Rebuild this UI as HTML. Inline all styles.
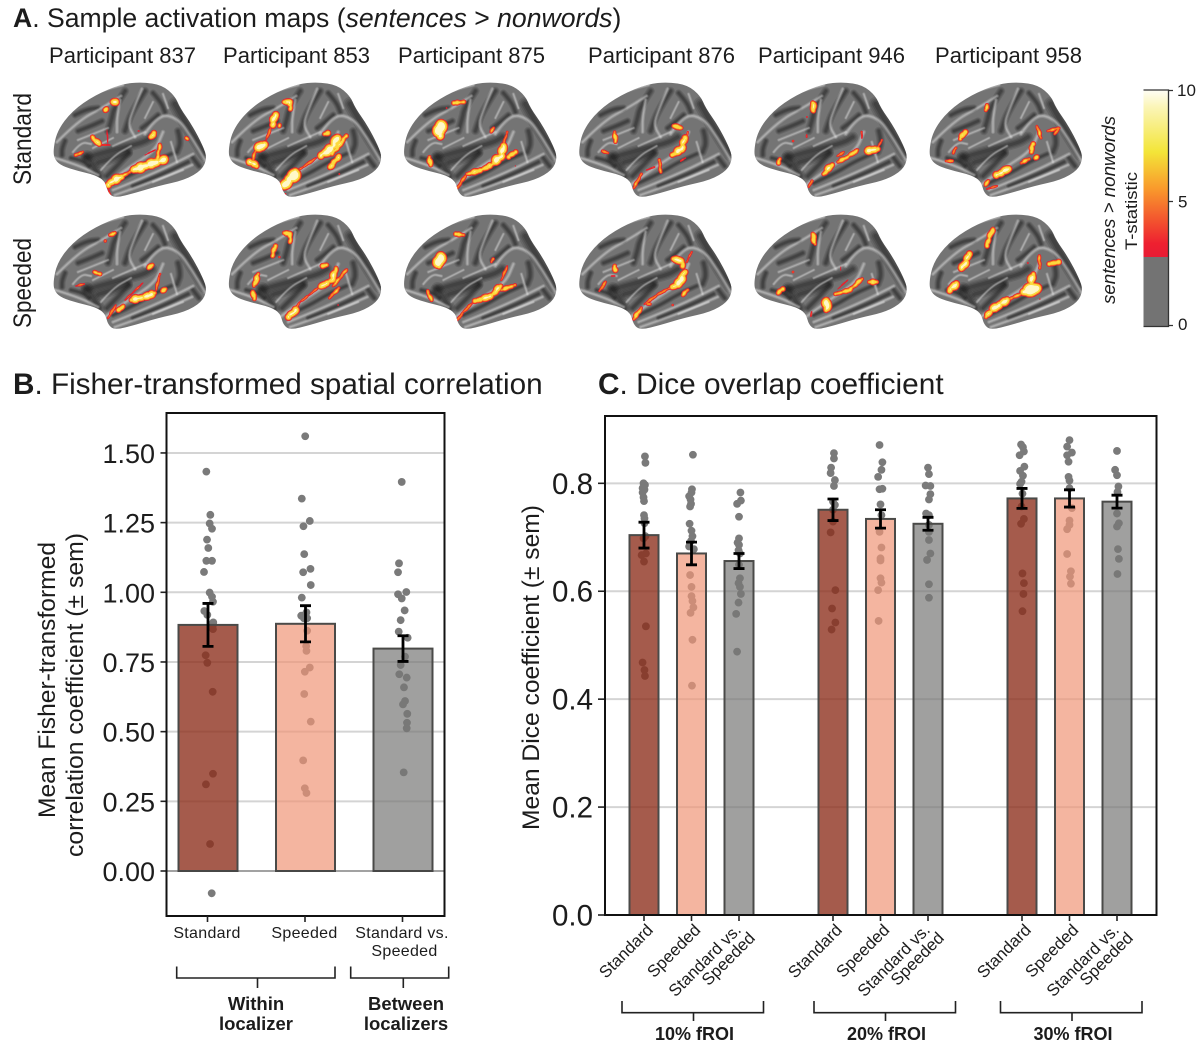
<!DOCTYPE html>
<html lang="en">
<head>
<meta charset="utf-8">
<title>Activation maps and localizer reliability</title>
<style>
html,body{margin:0;padding:0;background:#fff}
svg{display:block}
text{font-family:"Liberation Sans",sans-serif;fill:#1c1c1c}
</style>
</head>
<body>
<svg id="figure" xmlns="http://www.w3.org/2000/svg" width="1200" height="1055" viewBox="0 0 1200 1055">
<defs>
<linearGradient id="heat-gradient" x1="0" y1="0" x2="0" y2="1">
<stop offset="0" stop-color="#fffef6"/>
<stop offset="0.1" stop-color="#fbf5b8"/>
<stop offset="0.37" stop-color="#f3e538"/>
<stop offset="0.59" stop-color="#f99a2c"/>
<stop offset="0.92" stop-color="#ee2030"/>
<stop offset="1" stop-color="#e81c34"/>
</linearGradient>
<clipPath id="brain-clip"><path id="brain-clip-path" d=""/></clipPath>
<g id="brain-base">
<path id="brain-outline" d="" fill="#747474"/>
<g id="brain-folds" clip-path="url(#brain-clip)"></g>
</g>
</defs>
<g id="panel-a">
<text x="13" y="27" font-size="26.6"><tspan font-weight="bold">A</tspan>. Sample activation maps (<tspan font-style="italic">sentences</tspan> &gt; <tspan font-style="italic">nonwords</tspan>)</text>
<text x="49" y="63" font-size="22" textLength="147" lengthAdjust="spacingAndGlyphs">Participant 837</text>
<text x="223" y="63" font-size="22" textLength="147" lengthAdjust="spacingAndGlyphs">Participant 853</text>
<text x="398" y="63" font-size="22" textLength="147" lengthAdjust="spacingAndGlyphs">Participant 875</text>
<text x="588" y="63" font-size="22" textLength="147" lengthAdjust="spacingAndGlyphs">Participant 876</text>
<text x="758" y="63" font-size="22" textLength="147" lengthAdjust="spacingAndGlyphs">Participant 946</text>
<text x="935" y="63" font-size="22" textLength="147" lengthAdjust="spacingAndGlyphs">Participant 958</text>
<text transform="translate(31 185) rotate(-90)" font-size="25" textLength="92" lengthAdjust="spacingAndGlyphs">Standard</text>
<text transform="translate(31 328) rotate(-90)" font-size="25" textLength="90" lengthAdjust="spacingAndGlyphs">Speeded</text>
<g id="brains"></g>
<g>
<rect x="1143.5" y="90" width="25" height="167" fill="url(#heat-gradient)"/>
<rect x="1143.5" y="257" width="25" height="69.5" fill="#737373"/>
<path d="M1143.5 90H1168.5V326.5H1143.5M1168.5 90.5H1173M1168.5 201.5H1173M1168.5 325.5H1173" fill="none" stroke="#333" stroke-width="1.3"/>
<text x="1177" y="96" font-size="17">10</text>
<text x="1178" y="207.5" font-size="17">5</text>
<text x="1178" y="330" font-size="17">0</text>
<text transform="translate(1115 304) rotate(-90)" font-size="18" font-style="italic" textLength="188" lengthAdjust="spacingAndGlyphs">sentences &gt; nonwords</text>
<text transform="translate(1137 250) rotate(-90)" font-size="17" textLength="78" lengthAdjust="spacingAndGlyphs">T-statistic</text>
</g>
</g>
<g id="panel-b">
<text x="13" y="394" font-size="29.7"><tspan font-weight="bold">B</tspan>. Fisher-transformed spatial correlation</text>
<text transform="translate(55 818) rotate(-90)" font-size="24" textLength="276" lengthAdjust="spacingAndGlyphs">Mean Fisher-transformed</text>
<text transform="translate(83 857) rotate(-90)" font-size="24" textLength="324" lengthAdjust="spacingAndGlyphs">correlation coefficient (± sem)</text>
<g id="chart-b"></g>
<path d="M176.7 966.5V978H335V966.5M257.5 978V988" fill="none" stroke="#222" stroke-width="1.6"/>
<path d="M350.7 966.5V978H448.7V966.5M403.3 978V988" fill="none" stroke="#222" stroke-width="1.6"/>
<text x="256" y="1010" font-size="18.5" font-weight="bold" text-anchor="middle">Within</text>
<text x="256" y="1030" font-size="18.5" font-weight="bold" text-anchor="middle">localizer</text>
<text x="406" y="1010" font-size="18.5" font-weight="bold" text-anchor="middle">Between</text>
<text x="406" y="1030" font-size="18.5" font-weight="bold" text-anchor="middle">localizers</text>
</g>
<g id="panel-c">
<text x="598" y="394" font-size="29.8"><tspan font-weight="bold">C</tspan>. Dice overlap coefficient</text>
<text transform="translate(539 830) rotate(-90)" font-size="24" textLength="325" lengthAdjust="spacingAndGlyphs">Mean Dice coefficient (± sem)</text>
<g id="chart-c"></g>
</g>
</svg>
<script>
/* ---------- Panel B data ---------- */
const bCategories = ['Standard', 'Speeded', 'Standard vs.|Speeded'];
const bTicks = [0, 0.25, 0.5, 0.75, 1, 1.25, 1.5];
const bTickLabels = ['0.00', '0.25', '0.50', '0.75', '1.00', '1.25', '1.50'];
const bMeans = [0.883, 0.887, 0.798];
const bSem = [0.077, 0.065, 0.046];
const bStandardValues = [1.433,1.278,1.247,1.228,1.189,1.159,1.113,1.113,1.073,0.999,0.984,0.966,0.933,0.919,0.892,0.883,0.868,0.774,0.747,0.643,0.349,0.311,0.097,-0.080];
const bStandardJitter = [-.017,.024,.017,.041,-.01,.003,-.017,.041,-.041,.017,.041,.051,-.038,-.007,.054,.051,.051,-.024,-.007,.048,.051,-.021,.021,.038];
const bSpeededValues = [1.560,1.336,1.256,1.237,1.137,1.084,1.072,1.026,0.981,0.916,0.928,0.907,0.907,0.862,0.807,0.790,0.730,0.715,0.635,0.536,0.397,0.297,0.280];
const bSpeededJitter = [-.003,-.038,.044,-.021,-.013,.051,-.024,.054,-.038,-.044,.01,-.017,.017,.017,.007,.01,.044,-.007,-.013,.054,-.024,-.007,.01];
const bBetweenValues = [1.396,1.104,1.072,0.993,1.001,0.978,0.935,0.900,0.859,0.837,0.769,0.739,0.706,0.694,0.659,0.610,0.598,0.564,0.532,0.512,0.354];
const bBetweenJitter = [-.013,-.041,-.051,-.051,.034,-.013,.017,-.024,-.044,.048,.021,-.024,-.038,.038,.01,.021,0,.044,.041,.038,.007];

/* ---------- Panel C data ---------- */
const cGroups = ['10% fROI', '20% fROI', '30% fROI'];
const cConditions = ['Standard', 'Speeded', 'Standard vs.|Speeded'];
const cTicks = [0, 0.2, 0.4, 0.6, 0.8];
const cTickLabels = ['0.0', '0.2', '0.4', '0.6', '0.8'];
const cStandardMeans = [0.704, 0.751, 0.772];
const cSpeededMeans = [0.670, 0.734, 0.772];
const cBetweenMeans = [0.656, 0.725, 0.766];
const cStandardSem = [0.024, 0.020, 0.0185];
const cSpeededSem = [0.021, 0.017, 0.016];
const cBetweenSem = [0.014, 0.012, 0.012];
const c10StandardValues = [0.850,0.838,0.800,0.797,0.791,0.788,0.783,0.774,0.767,0.741,0.735,0.726,0.702,0.698,0.670,0.667,0.655,0.535,0.468,0.454,0.443];
const c10StandardJitter = [.02,.03,-.01,.02,-.03,.01,-.03,-.01,0,0,.01,.01,.03,-.01,.04,-.05,0,.04,-.03,.01,.02];
const c10SpeededValues = [0.853,0.789,0.783,0.776,0.770,0.762,0.757,0.725,0.712,0.702,0.693,0.683,0.678,0.630,0.608,0.591,0.582,0.570,0.560,0.510,0.425];
const c10SpeededJitter = [.03,.01,0,-.05,-.02,-.01,-.03,-.04,0,.02,-.01,-.05,.05,-.03,0,0,.02,.04,-.02,.02,.01];
const c10BetweenValues = [0.783,0.768,0.762,0.738,0.698,0.690,0.686,0.676,0.670,0.649,0.624,0.615,0.608,0.595,0.579,0.558,0.488];
const c10BetweenJitter = [.03,.04,-.04,0,0,-.03,0,-.01,.02,0,.02,-.01,.02,.04,-.01,-.06,-.04];
const c20StandardValues = [0.856,0.846,0.829,0.819,0.806,0.795,0.766,0.760,0.751,0.729,0.709,0.602,0.568,0.542,0.529];
const c20StandardJitter = [.02,.02,-.04,-.05,.04,.02,0,.04,0,0,-.05,.05,-.02,.05,-.03];
const c20SpeededValues = [0.871,0.839,0.825,0.812,0.789,0.790,0.761,0.741,0.710,0.681,0.661,0.657,0.624,0.616,0.602,0.545];
const c20SpeededJitter = [-.02,.04,.02,-.05,-.02,.04,0,.02,-.02,.02,0,0,0,.02,-.05,-.04];
const c20BetweenValues = [0.829,0.817,0.796,0.795,0.780,0.770,0.744,0.741,0.723,0.710,0.695,0.670,0.658,0.613,0.588];
const c20BetweenJitter = [0,.02,-.05,.05,.05,.02,-.04,.02,.02,.02,.02,.05,-.02,.02,.02];
const c30StandardValues = [0.872,0.867,0.859,0.852,0.831,0.823,0.814,0.803,0.799,0.781,0.757,0.734,0.725,0.633,0.615,0.595,0.563];
const c30StandardJitter = [-.02,.02,.04,-.05,.05,-.04,.02,-.01,-.04,.01,-.01,.04,-.02,.01,.04,.03,.01];
const c30SpeededValues = [0.880,0.868,0.857,0.852,0.840,0.812,0.805,0.791,0.754,0.731,0.723,0.715,0.669,0.637,0.627,0.614];
const c30SpeededJitter = [0,-.05,.05,-.05,-.02,-.02,0,0,.05,0,0,-.05,-.05,.03,.01,.03];
const c30BetweenValues = [0.860,0.825,0.815,0.794,0.784,0.744,0.726,0.720,0.678,0.660,0.632];
const c30BetweenJitter = [0,-.04,0,.03,.01,0,.04,0,.02,.04,.01];

/* ---------- Brain sketch: outline, folds, and activation traces (outer width, then polyline) ---------- */
const brainOutline = [[0,69],[4,49],[19,29],[42,13],[69,2],[89,0],[109,3],[122,14],[127,26],[139,43],[150,64],[154,76],[149,88],[132,98],[105,104],[82,111],[62,116],[55,111],[52,99],[42,93],[25,89],[9,84],[2,78]];
const brainDarkFolds = [
 [4.5,32,76,59,68,89,61,99,55],[5,34,74,40,84,46,94],[5,46,80,60,76,74,70],[3.5,76,71,64,84,54,94],
 [3.5,72,9,61,26,59,36,55,49],[3.5,92,9,79,29,72,49],[3,22,33,34,27,45,26],[3,25,49,38,44,49,39],
 [6,122,22,130,36,139,52,152,72],[3,105,33,97,40,89,46],[3.5,125,49,128,60,124,70],[3,12,59,9,66,9,73],
 [2.5,60,101,80,92,100,80,118,72],[2.5,80,104,110,92,135,80],[2.5,10,30,28,12,50,5],[3,100,11,108,20,112,30],
 [2.5,18,76,28,78,36,84],[3,140,76,146,84]
];
const brainLightFolds = [
 [1.6,4,60,25,39,49,26,68,14],[1.6,67,18,64,34,64,50],[1.6,89,7,80,28,75,43,82,55],[1.8,92,52,105,32,125,36,139,56,152,78],
 [1.8,52,103,75,86,102,69,110,50],[1.6,62,113,102,99,139,83],[1.6,2,76,25,83,45,93],[1.3,25,58,55,46],[1.3,60,64,92,50],
 [1.3,110,12,115,26],[1.3,118,60,124,80],[1.6,60,108,100,92,140,72],[1.3,20,70,28,60,38,62],[1.3,30,16,50,8,70,3],
 [1.2,40,66,60,56],[1.2,100,100,130,88],[1.2,100,20,92,36],[1.2,48,88,60,74,78,64]
];
const brainColumns = ['837', '853', '875', '876', '946', '958'];
const standardTraces = [
 [[9,60,20,62,20],[7,52,28,53,27],[7,39,55,46,62],[1.5,54,48,55,63],[2,49,63,57,63],[4.5,23,73,30,70],[9,98,55,101,51],[6,133,56,134,57],[1.5,85,49,86,49],[9,55,103,60,99,68,95],[10,80,88,92,84,104,80],[9,106,80,113,76],[5,107,63,104,78],[1.5,92,73,102,68],[2,55,106,58,115],[4,68,95,80,88]],
 [[7,56,20,62,20,62,27],[9,47,33,44,43],[6,51,43,51,44],[3,43,45,38,58],[10,30,66,37,62],[9,22,80,29,84],[3.5,28,66,24,80],[7,96,52,100,51],[10,109,56,103,67,92,74],[6,118,54,104,72],[3,88,76,72,87],[12,68,90,62,97,57,103],[7,111,74,102,85],[2.5,111,92,111,92],[3,57,112,57,112]],
 [[13,37,42,36,54],[6,50,21,60,20],[2.5,43,26,43,26],[6,26,75,27,83],[4,88,50,90,46],[3.5,54,106,62,94],[6,64,92,78,88,90,82],[9,90,81,98,74,100,64],[3,100,62,104,50],[7,105,75,112,70],[2,112,84,112,84]],
 [[6,95,44,103,46],[8,106,56,103,67,94,73],[3,109,50,108,60],[5,36,50,37,60],[3.5,24,69,29,71],[4,81,78,82,90],[2,68,88,76,85],[3.5,55,106,63,92],[2,102,79,107,76]],
 [[7,59,21,60,29],[2,53,35,53,35],[3.5,39,59,39,59],[6,26,77,25,81],[2,53,53,53,55],[2.5,108,50,108,56],[7,70,92,78,83],[5,84,80,92,76,104,68],[9,113,69,124,67],[3,124,66,128,58],[3.5,55,105,58,99],[3,84,74,90,70]],
 [[5,58,23,57,28],[7,36,50,31,57],[4,24,71,27,66],[4,17,79,23,79],[5,57,103,59,99],[9,68,93,79,87],[2.5,58,107,68,104],[4.5,92,81,100,77],[6,106,76,108,75],[7,104,62,102,70],[4,108,44,112,56],[3.5,119,49,130,46,126,52]]
];
const speededTraces = [
 [[5,57,21,62,19],[3.5,52,27,52,27],[6,41,58,47,60],[2.5,23,72,31,70],[6,96,54,99,51],[7,66,96,70,92],[3,55,104,63,91],[8,78,86,92,83,102,79],[6,109,77,113,75],[3,107,60,103,76],[2,90,69,72,86]],
 [[6,56,19,62,20,62,28],[6,47,32,44,42],[3.5,51,43,51,43],[6,30,60,26,72],[6,25,78,26,85],[7,95,52,98,51],[7,108,54,104,66,92,73],[2.5,91,73,72,88],[4,118,56,105,72],[9,60,103,68,96],[3,72,88,66,96],[4,111,74,101,84],[2,110,91,110,91],[2,57,114,57,114]],
 [[12,37,42,35,52],[6,52,20,60,21],[5,24,77,28,86],[4,88,48,90,45],[3,54,106,60,98,70,88],[7,72,87,88,82,97,72],[3,98,66,104,52],[5,98,76,112,71]],
 [[8,95,45,103,47,104,52],[2.5,113,38,108,48],[9,106,58,100,70,94,73],[7,36,52,37,56],[3.5,27,68,21,77],[3,95,72,80,80,66,90],[5,69,90,71,90],[5,55,105,63,94],[5,104,81,109,76],[3,94,91,94,91],[2,56,112,56,112],[2,33,62,36,62]],
 [[6,59,20,61,30],[3,39,58,39,58],[7,24,79,29,75],[1.5,87,53,87,56],[10,73,87,73,96],[5,82,80,96,76,108,65],[1.5,84,75,94,66],[6,115,68,123,68],[2,57,102,58,98]],
 [[6,64,15,60,24,58,32],[8,40,40,36,50,32,55],[9,20,77,27,70],[7,57,103,61,98],[9,64,95,78,86],[4,78,86,92,80],[13,95,78,108,74],[8,104,60,102,70],[4,110,42,111,54],[7,120,50,130,48],[3,99,49,99,49],[2,111,85,111,85]]
];

const NS = 'http://www.w3.org/2000/svg';
function make(tag, attrs, parent) {
  const el = document.createElementNS(NS, tag);
  for (const key in attrs) el.setAttribute(key, attrs[key]);
  parent.appendChild(el);
  return el;
}

/* ---------- Brains ---------- */
function smoothClosed(pts) {
  const mid = (a, b) => [(a[0] + b[0]) / 2, (a[1] + b[1]) / 2];
  let start = mid(pts[pts.length - 1], pts[0]);
  let d = 'M' + start[0] + ' ' + start[1];
  pts.forEach((p, i) => {
    const m = mid(p, pts[(i + 1) % pts.length]);
    d += 'Q' + p[0] + ' ' + p[1] + ' ' + m[0] + ' ' + m[1];
  });
  return d + 'Z';
}
function smoothOpen(t) {
  const pts = [];
  for (let i = 1; i < t.length; i += 2) pts.push([t[i], t[i + 1]]);
  let d = 'M' + pts[0][0] + ' ' + pts[0][1];
  for (let i = 1; i < pts.length - 1; i++) {
    const mx = (pts[i][0] + pts[i + 1][0]) / 2, my = (pts[i][1] + pts[i + 1][1]) / 2;
    d += 'Q' + pts[i][0] + ' ' + pts[i][1] + ' ' + mx + ' ' + my;
  }
  const last = pts[pts.length - 1];
  return d + 'L' + last[0] + ' ' + last[1];
}
const outlinePath = smoothClosed(brainOutline);
document.getElementById('brain-clip-path').setAttribute('d', outlinePath);
document.getElementById('brain-outline').setAttribute('d', outlinePath);

(function buildFolds() {
  const host = document.getElementById('brain-folds');
  const soft = [[2.4, .12], [1.8, .14], [1.25, .17], [.7, .2]];
  soft.forEach(([scale, alpha]) => {
    brainDarkFolds.forEach((t) => {
      make('path', { d: smoothOpen(t), fill: 'none', stroke: '#141414', 'stroke-opacity': alpha, 'stroke-width': t[0] * scale, 'stroke-linecap': 'round', 'stroke-linejoin': 'round' }, host);
    });
  });
  const softLight = [[2.6, .13], [1.7, .16], [.9, .22]];
  softLight.forEach(([scale, alpha]) => {
    brainLightFolds.forEach((t) => {
      make('path', { d: smoothOpen(t), fill: 'none', stroke: '#f4f4f4', 'stroke-opacity': alpha, 'stroke-width': t[0] * scale, 'stroke-linecap': 'round', 'stroke-linejoin': 'round' }, host);
    });
  });
})();

const brainLeft = (c) => 53 + 175.2 * c;
const brainTop = (r) => 82 + 132 * r;
const heatLayers = [[0, '#e81c2c'], [1.5, '#f6821f'], [3.2, '#fcd93e'], [6.4, '#fff8c8']];
function blobPath(traces, inset) {
  let d = '';
  traces.forEach((t, idx) => {
    const pts = [];
    for (let i = 1; i < t.length; i += 2) pts.push([t[i], t[i + 1]]);
    let total = 0;
    const segs = [];
    for (let i = 0; i < pts.length - 1; i++) {
      const len = Math.hypot(pts[i + 1][0] - pts[i][0], pts[i + 1][1] - pts[i][1]);
      segs.push(len);
      total += len;
    }
    const steps = Math.max(2, Math.ceil(total / 0.9));
    for (let k = 0; k <= steps; k++) {
      let s = total * k / steps, a = 0;
      while (a < segs.length - 1 && s > segs[a]) { s -= segs[a]; a++; }
      const f = segs.length && segs[a] > 0 ? s / segs[a] : 0;
      const p0 = pts[a], p1 = pts[a + 1] || pts[a];
      const x = p0[0] + (p1[0] - p0[0]) * f;
      const y = p0[1] + (p1[1] - p0[1]) * f;
      const along = total * k / steps;
      const wobble = 1 + .16 * Math.sin(along * .45 + idx * 1.7) + .08 * Math.sin(along * 1.1 + idx * 3.1);
      const endDist = Math.min(along, total - along);
      const taper = .78 + .22 * Math.min(1, endDist / 4);
      const r = (t[0] * wobble * taper - inset) / 2;
      if (r <= 0.05) continue;
      const ox = Math.sin(along * .7 + idx) * t[0] * .08;
      d += 'M' + (x + ox - r).toFixed(2) + ' ' + y.toFixed(2) + 'a' + r.toFixed(2) + ' ' + r.toFixed(2) + ' 0 1 0 ' + (2 * r).toFixed(2) + ' 0a' + r.toFixed(2) + ' ' + r.toFixed(2) + ' 0 1 0 ' + (-2 * r).toFixed(2) + ' 0';
    }
  });
  return d;
}
function drawBrain(col, row, traces, rowName) {
  const host = document.getElementById('brains');
  const g = make('g', { transform: 'translate(' + brainLeft(col) + ' ' + brainTop(row) + ')' }, host);
  
  
  make('use', { href: '#brain-base' }, g);
  const hot = make('g', { 'clip-path': 'url(#brain-clip)' }, g);
  
  
  heatLayers.forEach(([inset, color]) => {
    make('path', { d: blobPath(traces, inset), fill: color }, hot);
  });
}
standardTraces.forEach((t, c) => drawBrain(c, 0, t, 'standard'));
speededTraces.forEach((t, c) => drawBrain(c, 1, t, 'speeded'));

/* ---------- Shared chart styling ---------- */
const barFills = ['rgba(140,45,25,.78)', 'rgba(240,150,120,.7)', 'rgba(120,120,118,.7)'];
const condKeys = ['standard', 'speeded', 'standard-vs-speeded'];
const POINT_GRAY = '#7a7a7a';
function drawPoints(parent, xOf, yOf, values, jitter, label) {
  values.forEach((v, i) => {
    const c = make('circle', { cx: xOf(jitter[i]), cy: yOf(v), r: 3.9, fill: POINT_GRAY }, parent);
    
    
  });
}
function drawBar(parent, cx, w, yTop, yBase, k, label) {
  const r = make('rect', { x: cx - w / 2, y: yTop, width: w, height: yBase - yTop, fill: barFills[k], stroke: '#4a4a48', 'stroke-width': 2 }, parent);
  
  
}
function drawError(parent, cx, yHi, yLo, label) {
  const p = make('path', { d: 'M' + (cx - 5.5) + ' ' + yHi + 'H' + (cx + 5.5) + 'M' + cx + ' ' + yHi + 'V' + yLo + 'M' + (cx - 5.5) + ' ' + yLo + 'H' + (cx + 5.5), fill: 'none', stroke: '#000', 'stroke-width': 2.8 }, parent);
  
  
}

/* ---------- Panel B ---------- */
(function () {
  const root = document.getElementById('chart-b');
  const L = 166.5, R = 444.5, T = 413, B = 916;
  const bY = (v) => 871 - 278.7 * v;
  const bX = (i) => 208 + 97.5 * i;
  bTicks.forEach((t, i) => {
    if (t !== 0) {
      const g = make('line', { x1: L, x2: R, y1: bY(t), y2: bY(t), stroke: '#d4d4d4', 'stroke-width': 2 }, root);
      
      
    }
    const tk = make('line', { x1: L - 6, x2: L, y1: bY(t), y2: bY(t), stroke: '#222', 'stroke-width': 1.6 }, root);
    
    
    const lb = make('text', { x: 155, y: bY(t) + 10, 'font-size': 27, 'text-anchor': 'end' }, root);
    
    
    lb.textContent = bTickLabels[i];
  });
  const sets = [[bStandardValues, bStandardJitter], [bSpeededValues, bSpeededJitter], [bBetweenValues, bBetweenJitter]];
  sets.forEach(([vals, jit], k) => drawPoints(root, (j) => bX(k + j), bY, vals, jit, 'b-' + condKeys[k]));
  bMeans.forEach((m, k) => drawBar(root, bX(k), 59, bY(m), bY(0), k, 'b-' + condKeys[k]));
  const zero = make('line', { x1: L, x2: R, y1: bY(0), y2: bY(0), stroke: '#444', 'stroke-width': 1 }, root);
  
  
  bMeans.forEach((m, k) => drawError(root, bX(k), bY(m + bSem[k]), bY(m - bSem[k]), 'b-' + condKeys[k]));
  const frame = make('rect', { x: L, y: T, width: R - L, height: B - T, fill: 'none', stroke: '#111', 'stroke-width': 2 }, root);
  
  
  bCategories.forEach((name, k) => {
    const tk = make('line', { x1: bX(k) - 0.5, x2: bX(k) - 0.5, y1: B, y2: B + 6, stroke: '#222', 'stroke-width': 1.6 }, root);
    
    
    name.split('|').forEach((line, n) => {
      const t = make('text', { x: bX(k) + (n === 1 ? 2.5 : 0) - 1, y: 938 + 18 * n, 'font-size': 16, 'text-anchor': 'middle', 'letter-spacing': 0.3 }, root);
      
      
      t.textContent = line;
    });
  });
})();

/* ---------- Panel C ---------- */
(function () {
  const root = document.getElementById('chart-c');
  const L = 605, R = 1156.5, T = 416, B = 915;
  const cY = (v) => 915 - 539.6 * v;
  const cX = (g, i) => 644 + 189 * g + 47.5 * i;
  cTicks.forEach((t, i) => {
    if (t !== 0) {
      const g = make('line', { x1: L, x2: R, y1: cY(t), y2: cY(t), stroke: '#d4d4d4', 'stroke-width': 2 }, root);
      
      
    }
    const tk = make('line', { x1: L - 7, x2: L, y1: cY(t), y2: cY(t), stroke: '#222', 'stroke-width': 1.6 }, root);
    
    
    const lb = make('text', { x: 593, y: cY(t) + 10.5, 'font-size': 29.5, 'text-anchor': 'end' }, root);
    
    
    lb.textContent = cTickLabels[i];
  });
  const sets = [
    [[c10StandardValues, c10StandardJitter], [c10SpeededValues, c10SpeededJitter], [c10BetweenValues, c10BetweenJitter]],
    [[c20StandardValues, c20StandardJitter], [c20SpeededValues, c20SpeededJitter], [c20BetweenValues, c20BetweenJitter]],
    [[c30StandardValues, c30StandardJitter], [c30SpeededValues, c30SpeededJitter], [c30BetweenValues, c30BetweenJitter]]
  ];
  const means = [cStandardMeans, cSpeededMeans, cBetweenMeans];
  const sems = [cStandardSem, cSpeededSem, cBetweenSem];
  sets.forEach((grp, g) => grp.forEach(([vals, jit], k) => drawPoints(root, (j) => cX(g, k + j), cY, vals, jit, 'c-' + g + '-' + condKeys[k])));
  cGroups.forEach((_, g) => means.forEach((m, k) => drawBar(root, cX(g, k), 29, cY(m[g]), cY(0), k, 'c-' + g + '-' + condKeys[k])));
  cGroups.forEach((_, g) => means.forEach((m, k) => drawError(root, cX(g, k), cY(m[g] + sems[k][g]), cY(m[g] - sems[k][g]), 'c-' + g + '-' + condKeys[k])));
  const frame = make('rect', { x: L, y: T, width: R - L, height: B - T, fill: 'none', stroke: '#111', 'stroke-width': 2 }, root);
  
  
  cGroups.forEach((name, g) => {
    cConditions.forEach((cond, k) => {
      const x = cX(g, k);
      const tk = make('line', { x1: x, x2: x, y1: B, y2: B + 6, stroke: '#222', 'stroke-width': 1.6 }, root);
      
      
      const lines = cond.split('|');
      lines.forEach((line, n) => {
        const ax = lines.length === 1 ? x + 10 : (n === 0 ? x + 3 : x + 17);
        const ay = lines.length === 1 ? 931 : (n === 0 ? 931 : 939);
        const t = make('text', { transform: 'translate(' + ax + ' ' + ay + ') rotate(-45)', 'font-size': 16.8, 'text-anchor': 'end' }, root);
        
        
        t.textContent = line;
      });
    });
    const left = 622 + 190 * g + (g === 2 ? -1.5 : 0) - (g === 1 ? -2 : 0);
    const mid = left + 71.5;
    const br = make('path', { d: 'M' + left + ' 1001V1012.7H' + (left + 141.5) + 'V1001M' + mid + ' 1012.7V1021', fill: 'none', stroke: '#222', 'stroke-width': 1.6 }, root);
    
    
    const lb = make('text', { x: mid + 1, y: 1040, 'font-size': 18, 'font-weight': 'bold', 'text-anchor': 'middle' }, root);
    
    
    lb.textContent = name;
  });
})();
</script>
</body>
</html>
